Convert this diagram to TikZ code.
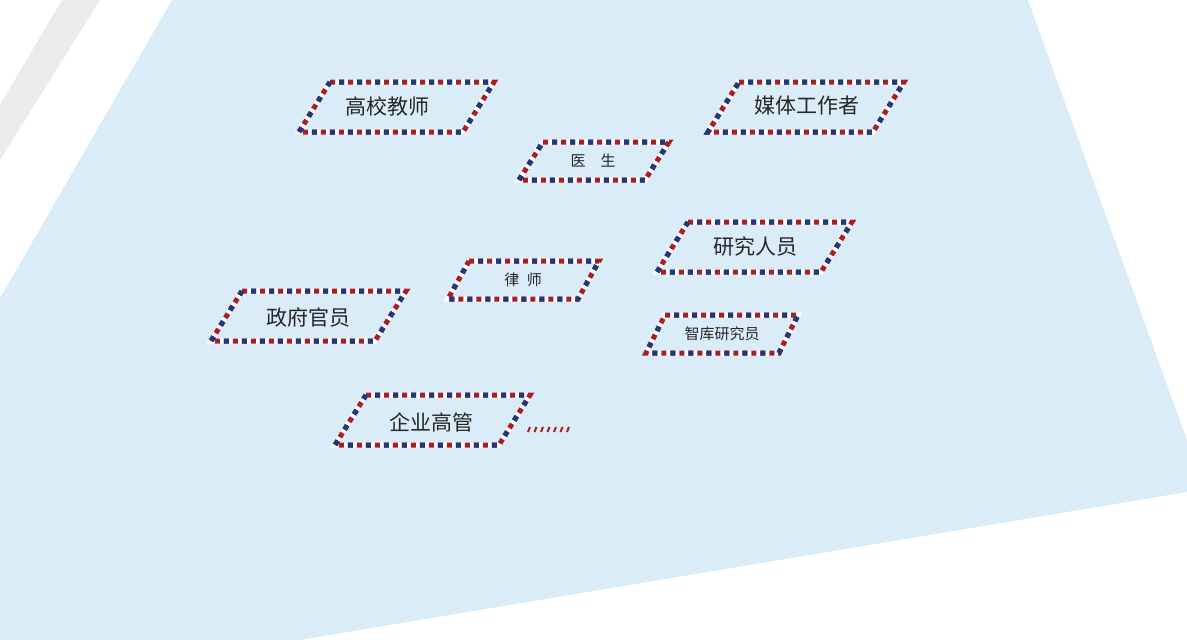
\documentclass[tikz,border=0pt]{standalone}
\usepackage{fontspec}
\newfontfamily\cjk{Noto Sans CJK SC}
\definecolor{bg}{HTML}{DBECF9}
\definecolor{mred}{HTML}{A51F24}
\definecolor{mblue}{HTML}{1F3A7A}
\tikzset{
 lbl/.style={font=\cjk\fontsize{21}{21}\selectfont, text=black!85},
 slbl/.style={font=\cjk\fontsize{15}{15}\selectfont, text=black!85},
}
\newcommand{\mailbox}[6]{% name, xtl, ytop, w, h, skew
 \path (#2,#3) coordinate (#1a) -- ++(#4,0) coordinate (#1b) -- ++(-#6,#5) coordinate (#1c) -- ++(-#4,0) coordinate (#1d);
 \draw[line width=5pt, white, line join=miter] (#1a)--(#1b)--(#1c)--(#1d)--cycle;
 \draw[line width=5pt, mred, dash pattern=on 5pt off 4pt, line join=miter] (#1a)--(#1b)--(#1c)--(#1d)--cycle;
 \draw[line width=5pt, mblue, dash pattern=on 5pt off 13pt, dash phase=9pt] (#1a)--(#1b)--(#1c)--(#1d)--cycle;
}
\begin{document}
\begin{tikzpicture}[x=1pt,y=-1pt]
\useasboundingbox (0,0) rectangle (1187,640);
\fill[white] (0,0) rectangle (1187,640);
\fill[bg] (172,0)--(1028,0)--(1187,440)--(1187,492)--(300,640)--(0,640)--(0,298)--cycle;
\fill[black!8] (62,0)--(100,0)--(0,160)--(0,105)--cycle;
\mailbox{p1}{330}{82}{164}{50}{31}
\mailbox{p2}{739}{82}{165}{50}{31}
\mailbox{p3}{543}{142}{126}{38}{24}
\mailbox{p4}{688}{222}{164}{50}{31}
\mailbox{p5}{469}{261}{130}{38}{21}
\mailbox{p6}{242}{291}{164}{50}{31}
\mailbox{p7}{665}{315}{133}{38}{19}
\mailbox{p8}{366}{395}{164}{50}{31}
\node[lbl] (t1) at (387,106) {高校教师};
\node[lbl] (t2) at (807,106) {媒体工作者};
\node[slbl] (t3) at (593,161) {医\quad 生};
\node[lbl] (t4) at (755,246) {研究人员};
\node[slbl] (t5) at (523,280) {律\enspace 师};
\node[lbl] (t6) at (308,317) {政府官员};
\node[slbl] (t7) at (722,334) {智库研究员};
\node[lbl] (t8) at (431,422) {企业高管};
\foreach \i in {0,...,6} \draw[mred, line width=2pt] (528+\i*6.5,432)--(530+\i*6.5,427);
\end{tikzpicture}
\end{document}
